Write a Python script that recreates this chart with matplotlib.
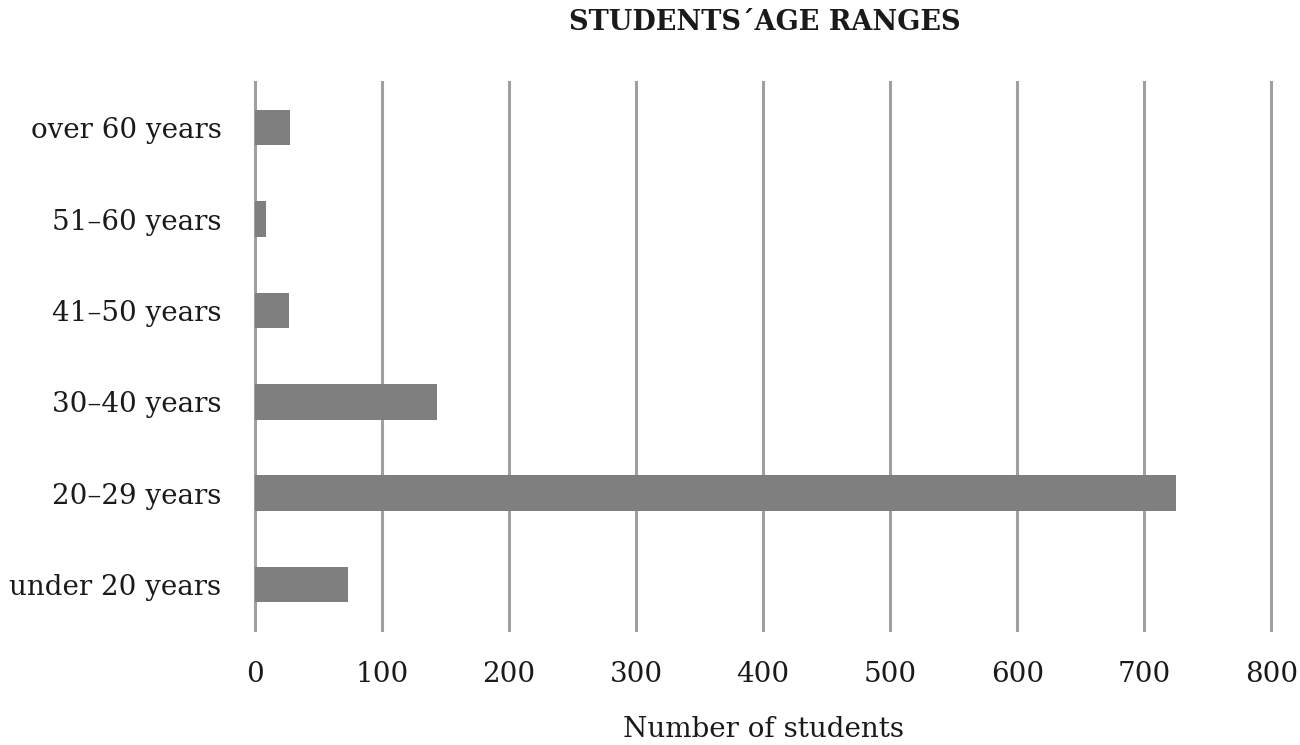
import matplotlib.pyplot as plt

categories = ["under 20 years", "20\u201329 years", "30\u201340 years",
              "41\u201350 years", "51\u201360 years", "over 60 years"]
students = [73, 725, 143, 27, 9, 28]
xticks = [0, 100, 200, 300, 400, 500, 600, 700, 800]

plt.rcParams['font.family'] = ['DejaVu Serif']

fig = plt.figure(figsize=(13, 7.45), dpi=100)
ax = fig.add_axes([0.196, 0.154, 0.782, 0.736])

ax.barh(range(len(categories)), students, height=0.39, color="#7f7f7f", zorder=3)

ax.set_xlim(0, 800)
ax.set_ylim(-0.5, 5.5)
ax.set_xticks(xticks)
ax.set_yticks(range(len(categories)))
ax.set_yticklabels(categories)
ax.xaxis.grid(True, color="#a0a0a0", linewidth=2.2, zorder=1)
for gl in ax.get_xgridlines():
    gl.set_clip_on(False)
ax.set_axisbelow(True)
for s in ax.spines.values():
    s.set_visible(False)
ax.tick_params(axis="both", length=0, labelsize=20, colors="#1a1a1a")
ax.tick_params(axis="x", pad=22)
ax.tick_params(axis="y", pad=24)

ax.set_xlabel("Number of students", fontsize=20, labelpad=20, color="#1a1a1a")
fig.text(0.588, 0.97, "STUDENTS\u00b4AGE RANGES", ha="center", va="center",
         fontsize=19.5, fontweight="bold", color="#1a1a1a")

fig.savefig("out.png", dpi=100)
